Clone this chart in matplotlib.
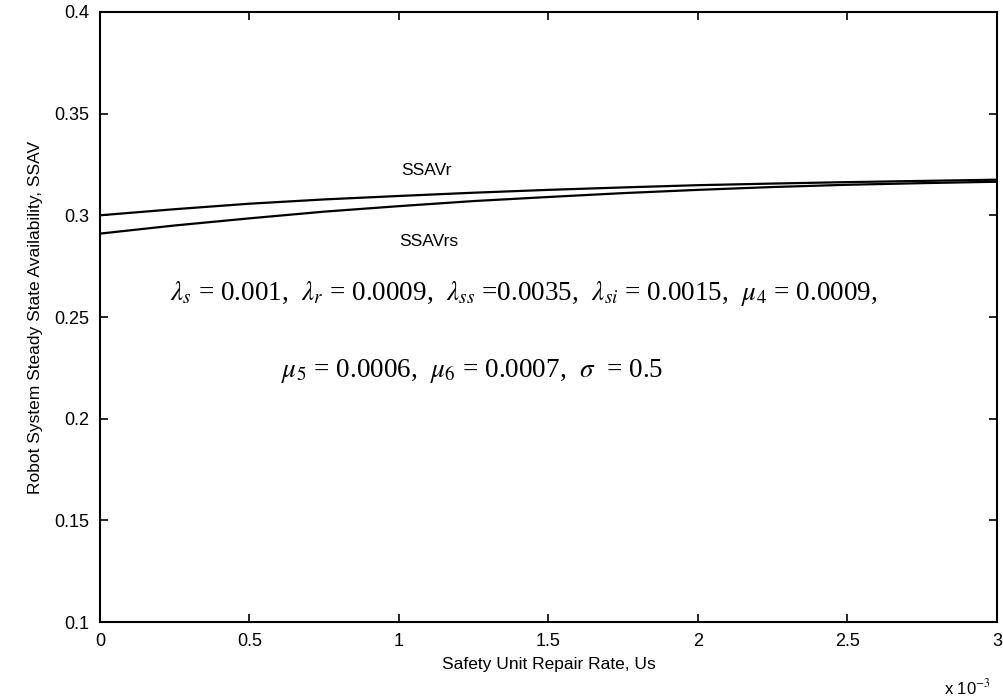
import matplotlib
matplotlib.use("Agg")
import matplotlib.pyplot as plt
import numpy as np

# Safety unit repair rate (x 10^-3)
us = [0.0, 0.25, 0.5, 0.75, 1.0, 1.25, 1.5, 1.75, 2.0, 2.25, 2.5, 2.75, 3.0]
ssav_r = [0.3000, 0.3030, 0.3057, 0.3078, 0.3095, 0.3111, 0.3125, 0.3137, 0.3148, 0.3156, 0.3163, 0.3169, 0.3175]
ssav_rs = [0.2910, 0.2950, 0.2985, 0.3018, 0.3045, 0.3070, 0.3090, 0.3109, 0.3125, 0.3139, 0.3150, 0.3158, 0.3165]

plt.rcParams['font.family'] = ['Liberation Sans', 'DejaVu Sans']
plt.rcParams['mathtext.fontset'] = 'stix'

fig = plt.figure(figsize=(10.04, 6.96), dpi=100)
ax = fig.add_axes([0.0996, 0.106, 0.8934, 0.877])

ax.plot(us, ssav_r, color='black', lw=1.6)
ax.plot(us, ssav_rs, color='black', lw=1.6)

ax.set_xlim(0, 3)
ax.set_ylim(0.1, 0.4)
ax.set_xticks([0, 0.5, 1, 1.5, 2, 2.5, 3])
ax.set_xticklabels(['0', '0.5', '1', '1.5', '2', '2.5', '3'])
ax.set_yticks([0.1, 0.15, 0.2, 0.25, 0.3, 0.35, 0.4])
ax.set_yticklabels(['0.1', '0.15', '0.2', '0.25', '0.3', '0.35', '0.4'])
ax.tick_params(direction='in', top=True, right=True, length=6, width=1.2, labelsize=13)
ax.tick_params(axis='x', pad=8)
ax.tick_params(axis='y', pad=8)
for s in ax.spines.values():
    s.set_linewidth(1.5)

ax.set_xlabel('Safety Unit Repair Rate, Us', fontsize=12.5, labelpad=5)
ax.set_ylabel('Robot System Steady State Availability, SSAV', fontsize=12.5, labelpad=8)

ax.text(0.993, -0.09, r'x 10$^{-3}$', transform=ax.transAxes, ha='right', va='top', fontsize=12)

ax.text(1.09, 0.322, 'SSAVr', fontsize=12.5, ha='center', va='center')
ax.text(1.10, 0.287, 'SSAVrs', fontsize=12.5, ha='center', va='center')

txt1 = (r'$\lambda_s$ = 0.001,  $\lambda_r$ = 0.0009,  $\lambda_{ss}$ =0.0035,  '
        r'$\lambda_{si}$ = 0.0015,  $\mu_4$ = 0.0009,')
txt2 = r'$\mu_5$ = 0.0006,  $\mu_6$ = 0.0007,  $\sigma$  = 0.5'
ax.text(0.234, 0.2585, txt1, fontsize=19.5, family='Liberation Serif', ha='left', va='baseline')
ax.text(0.605, 0.2205, txt2, fontsize=19.5, family='Liberation Serif', ha='left', va='baseline')

fig.savefig('out.png', dpi=100)
